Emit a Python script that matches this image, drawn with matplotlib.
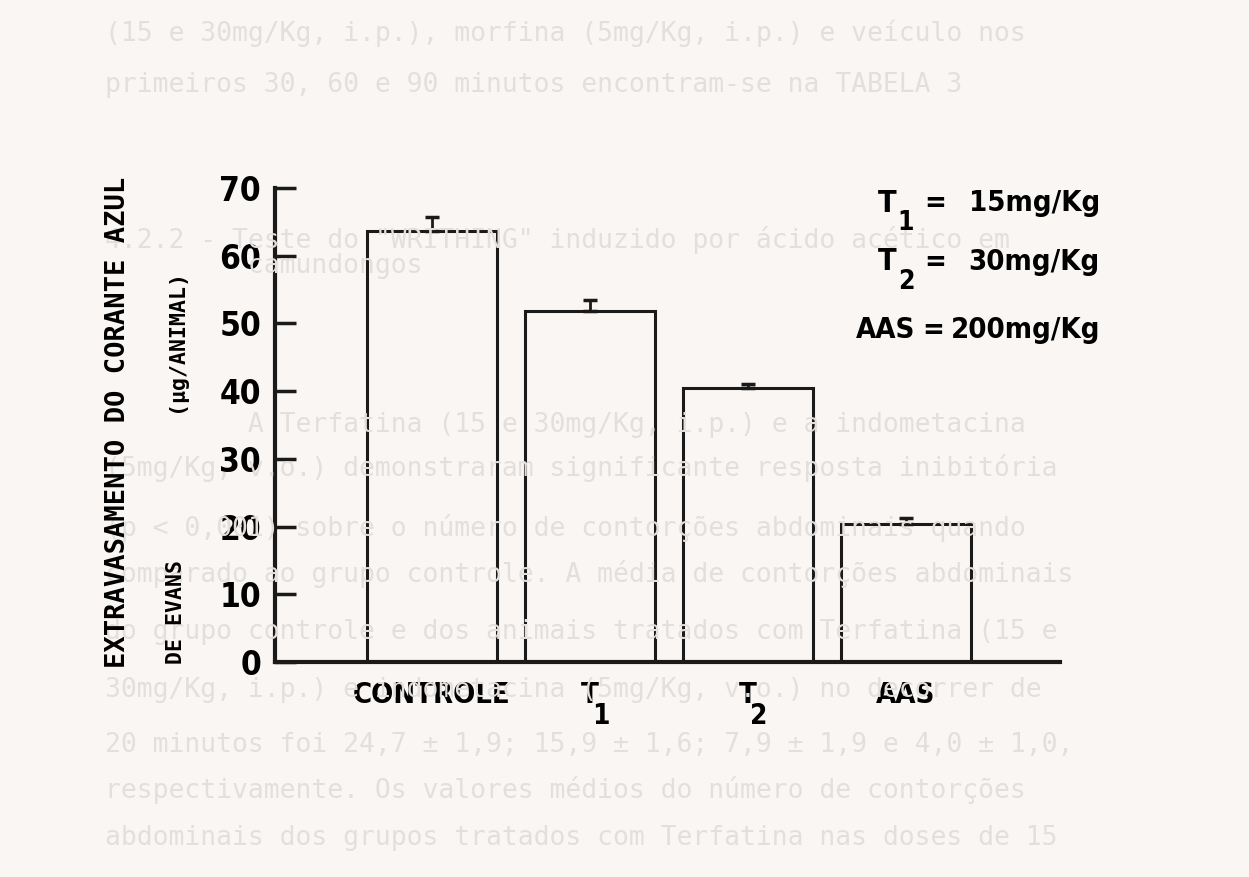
import matplotlib.pyplot as plt
import numpy as np

# extravasamento do corante azul de Evans (ug/animal)
grupos = ['CONTROLE', 'T', 'T', 'AAS']
indices = ['', '1', '2', '']
medias = [63.6, 51.9, 40.4, 20.4]
erros = [2.1, 1.6, 0.7, 0.9]
yticks = [0, 10, 20, 30, 40, 50, 60, 70]
dose_nome = ['T', 'T', 'AAS']
dose_indice = ['1', '2', '']
dose_valor = ['15mg/Kg', '30mg/Kg', '200mg/Kg']

# texto do verso da folha (transparece no scan)
verso = [
    (33, '(15 e 30mg/Kg, i.p.), morfina (5mg/Kg, i.p.) e veículo nos'),
    (85, 'primeiros 30, 60 e 90 minutos encontram-se na TABELA 3'),
    (240, '4.2.2 - Teste do "WRITHING" induzido por ácido acético em'),
    (266, '         camundongos'),
    (425, '         A Terfatina (15 e 30mg/Kg, i.p.) e a indometacina'),
    (468, '(5mg/Kg, v.o.) demonstraram significante resposta inibitória'),
    (528, '(p < 0,001) sobre o número de contorções abdominais quando'),
    (574, 'comparado ao grupo controle. A média de contorções abdominais'),
    (632, 'do grupo controle e dos animais tratados com Terfatina (15 e'),
    (690, '30mg/Kg, i.p.) e indometacina (5mg/Kg, v.o.) no decorrer de'),
    (745, '20 minutos foi 24,7 ± 1,9; 15,9 ± 1,6; 7,9 ± 1,9 e 4,0 ± 1,0,'),
    (790, 'respectivamente. Os valores médios do número de contorções'),
    (838, 'abdominais dos grupos tratados com Terfatina nas doses de 15'),
]

plt.rcParams['font.family'] = ['DejaVu Sans']
plt.rcParams['font.stretch'] = 'condensed'
plt.rcParams['font.weight'] = 'bold'

W, H = 1249, 877
fig = plt.figure(figsize=(W / 100, H / 100), dpi=100, facecolor='#f9f6f3')

for y, linha in verso:
    fig.text(105 / W, 1 - y / H, linha, fontsize=19, color='#e3dfdc',
             family='DejaVu Sans Mono', weight='normal', stretch='normal',
             va='center', ha='left', zorder=0)

ax = fig.add_axes([275 / W, 1 - 662 / H, (1060 - 275) / W, (662 - 188) / H])
ax.patch.set_alpha(0)

x = np.arange(len(grupos))
ax.bar(x, medias, width=0.82, facecolor='none', edgecolor='#1a1a1a', linewidth=2.2)
ax.errorbar(x, medias, yerr=[np.zeros(len(erros)), erros], fmt='none',
            ecolor='#1a1a1a', elinewidth=2, capsize=5, capthick=2.5)

ax.set_xlim(-0.994, 3.975)
ax.set_ylim(0, 70)
ax.set_yticks(yticks)
ax.set_yticklabels([str(v) for v in yticks], fontsize=24)
ax.set_xticks(x)
ax.set_xticklabels(grupos, fontsize=21, va='top')
ax.tick_params(axis='y', direction='in', length=15, width=2.5, pad=10, color='#1a1a1a')
ax.tick_params(axis='x', length=0, pad=14)
for s in ['top', 'right']:
    ax.spines[s].set_visible(False)
for s in ['left', 'bottom']:
    ax.spines[s].set_linewidth(3)
    ax.spines[s].set_color('#1a1a1a')

# indices dos rotulos T1 e T2
for xi, idx in zip(x, indices):
    if idx:
        ax.annotate(idx, xy=(xi, 0), xycoords=('data', 'axes fraction'),
                    xytext=(11, -40), textcoords='offset pixels',
                    fontsize=20, ha='center', va='top')

# rotulo do eixo y em duas colunas
fig.text(118 / W, 1 - 422 / H, 'EXTRAVASAMENTO DO CORANTE AZUL', rotation=90,
         family='DejaVu Sans Mono', stretch='normal', fontsize=19.5, weight='bold',
         ha='center', va='center')
fig.text(176 / W, 1 - 612 / H, 'DE EVANS', rotation=90,
         family='DejaVu Sans Mono', stretch='normal', fontsize=15.5, weight='bold',
         ha='center', va='center')
fig.text(176 / W, 1 - 340 / H, '(µg/ANIMAL)', rotation=90,
         family='DejaVu Sans Mono', stretch='normal', fontsize=15.5, weight='bold',
         ha='center', va='center')

# legenda das doses
for y, nome, idx, val in zip([203, 262, 330], dose_nome, dose_indice, dose_valor):
    fig.text(1100 / W, 1 - y / H, val, fontsize=21, ha='right', va='center')
    if idx:
        fig.text(935 / W, 1 - y / H, '=', fontsize=21, ha='center', va='center')
        fig.text(887 / W, 1 - y / H, nome, fontsize=22, ha='center', va='center')
        fig.text(906 / W, 1 - (y + 20) / H, idx, fontsize=19, ha='center', va='center')
    else:
        fig.text(933 / W, 1 - y / H, '=', fontsize=21, ha='center', va='center')
        fig.text(886 / W, 1 - y / H, nome, fontsize=21, ha='center', va='center')

fig.savefig('out.png', dpi=100, facecolor=fig.get_facecolor())
